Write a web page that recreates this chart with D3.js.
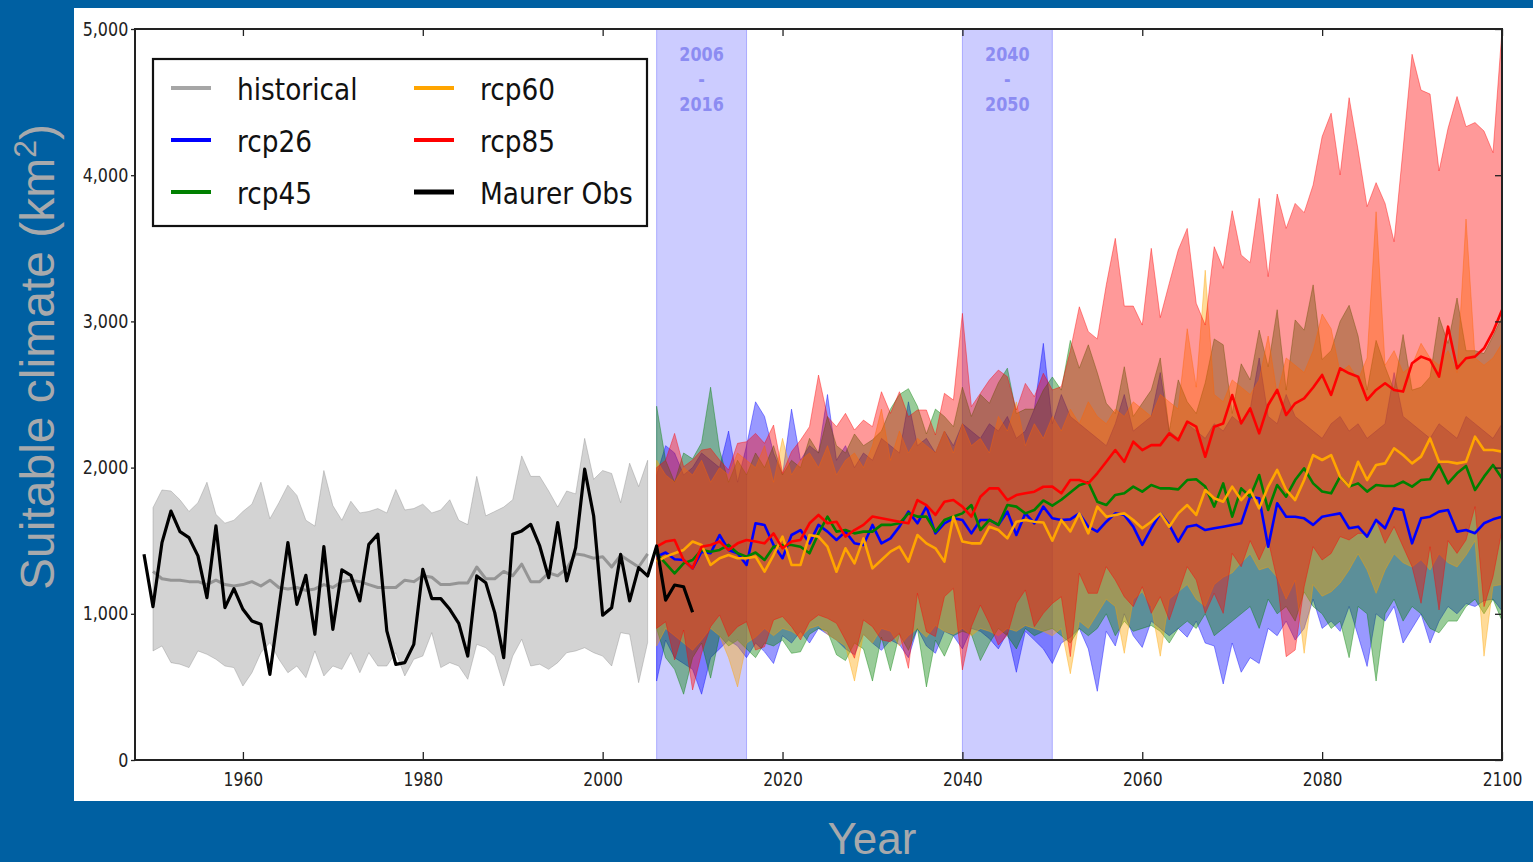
<!DOCTYPE html>
<html>
<head>
<meta charset="utf-8">
<script src="https://cdn.jsdelivr.net/npm/d3@7"></script>
<style>
  html, body { margin: 0; padding: 0; background: #0060a2; overflow: hidden; }
  svg { display: block; }
</style>
</head>
<body>
<svg id="chart" width="1533" height="862"></svg>
<script>
// ---- data ----
const xTicks = [1960, 1980, 2000, 2020, 2040, 2060, 2080, 2100];
const yTicks = [0, 1000, 2000, 3000, 4000, 5000];
const periods = [[2006, 2016], [2040, 2050]];

const histYears = d3.range(1950, 2006);
const histMedian = [1290,1240,1230,1230,1220,1220,1200,1230,1200,1190,1200,1220,1190,1230,1180,1170,1180,1160,1170,1200,
  1180,1220,1230,1220,1200,1180,1180,1180,1230,1220,1260,1250,1200,1200,1210,1210,1320,1240,1240,1290,
  1260,1340,1220,1220,1280,1260,1310,1410,1400,1380,1390,1320,1400,1360,1320,1410];
const histMin = [746,780,666,655,632,746,723,689,643,632,506,597,734,803,689,597,643,563,746,575,
  643,620,734,597,734,643,643,734,575,689,711,871,632,666,643,552,791,768,711,506,
  711,826,643,655,620,666,734,746,768,734,711,643,871,860,529,803];
const histMax = [1726,1847,1840,1780,1700,1760,1900,1680,1620,1640,1700,1750,1900,1650,1760,1880,1810,1640,1600,1980,
  1740,1640,1770,1690,1700,1720,1690,1850,1710,1720,1750,1690,1710,1780,1640,1610,1940,1670,1700,1730,
  1780,2080,1940,1940,1840,1730,1840,1820,2200,1920,1980,1960,1760,2030,1870,2050];

const obsYears = d3.range(1949, 2011);
const obsValues = [1407,1049,1487,1703,1562,1521,1396,1111,1601,1042,1172,1031,951,928,586,1040,1487,1065,1263,860,
  1460,894,1300,1263,1088,1475,1544,883,654,666,791,1304,1104,1104,1031,935,711,1259,1213,1008,
  700,1544,1567,1612,1464,1247,1624,1225,1453,1989,1669,990,1042,1407,1088,1316,1259,1464,1094,1197,
  1185,1010];

const projYears = d3.range(2006, 2101);

const rcp26Median = [1391,1419,1373,1368,1311,1425,1414,1539,1437,1414,1334,1619,1608,1471,1380,1539,1573,1482,1608,1562,
  1505,1562,1482,1471,1608,1482,1516,1596,1699,1619,1733,1550,1619,1653,1642,1550,1642,1642,1608,1699,
  1539,1687,1619,1733,1653,1642,1646,1687,1596,1562,1630,1687,1676,1596,1471,1585,1687,1608,1494,1596,
  1608,1573,1585,1596,1608,1619,1801,1790,1459,1756,1664,1664,1653,1608,1664,1676,1687,1585,1596,1528,
  1642,1585,1721,1710,1482,1653,1664,1699,1710,1562,1573,1551,1619,1646,1664];
const rcp26Min = [540,820,700,660,620,450,700,760,820,780,700,800,740,660,850,800,880,800,900,860,
  820,760,720,860,800,750,820,790,700,900,780,730,880,850,760,900,880,830,760,870,
  600,880,820,760,660,800,840,900,760,470,880,780,1000,850,770,950,900,850,900,840,
  950,800,780,520,800,600,700,660,900,850,950,820,900,1100,900,950,880,1050,850,640,
  1000,950,1050,800,900,1000,800,950,1050,1000,1070,1050,1090,1100,1020];
const rcp26Max = [1950,2150,2100,1950,2000,2100,2050,2000,2250,1900,2150,2450,2350,2100,1950,2400,2050,2150,2100,2500,
  2050,2150,2000,2100,2050,2200,2150,2100,2450,2150,2200,2100,2250,2150,2300,2250,2200,2300,2250,2350,
  2200,2250,2400,2850,2300,2500,2350,2300,2250,2200,2150,2300,2500,2250,2300,2350,2650,2250,2200,2300,
  2250,2200,2300,2250,2350,2300,2400,2750,2350,2300,2500,2350,2300,2250,2200,2300,2350,2250,2300,2200,
  2250,2300,2650,2350,2300,2250,2200,2300,2250,2200,2350,2300,2250,2200,2300];

const rcp45Median = [1414,1345,1277,1345,1368,1437,1425,1437,1471,1414,1391,1419,1368,1459,1471,1471,1459,1414,1550,1665,
  1562,1573,1550,1562,1562,1608,1608,1619,1687,1665,1665,1562,1642,1665,1687,1744,1573,1642,1608,1744,
  1733,1687,1710,1775,1740,1780,1830,1880,1900,1767,1744,1813,1824,1870,1836,1881,1858,1858,1851,1915,
  1920,1870,1733,1892,1664,1858,1801,1949,1710,1881,1801,1915,1995,1892,1836,1824,1938,1870,1892,1836,
  1881,1874,1874,1904,1870,1915,1920,2018,1892,1961,2011,1847,1938,2018,1927];
const rcp45Min = [900,700,620,450,700,800,560,850,780,820,760,700,800,780,820,730,740,860,900,880,
  720,680,800,760,540,840,610,860,750,900,500,820,710,850,880,860,680,800,900,850,
  760,900,850,880,900,850,800,900,850,900,1000,850,950,880,900,920,880,800,900,950,
  900,1000,850,900,950,1000,1050,900,1100,1000,1050,950,1150,1050,1000,900,950,700,1050,1000,
  540,1000,1100,950,1050,1000,900,870,950,950,1050,1100,1000,1100,950];
const rcp45Max = [2420,2050,1900,2100,2060,2170,2550,2120,1900,2050,1950,2100,2000,2150,1950,2050,2000,2200,2100,2350,
  2150,2100,2230,2150,2190,2250,2400,2500,2540,2420,2230,2400,2350,2280,2550,2350,2500,2440,2580,2680,
  2370,2400,2400,2530,2620,2530,2870,2680,2840,2650,2440,2370,2690,2350,2440,2530,2750,2250,2600,2450,
  2370,2580,2880,2840,2370,2710,2600,2940,2690,3080,2530,3010,2940,3250,2740,2800,3000,3110,2900,2530,
  2870,2690,2530,2910,2530,2550,2620,3030,2850,3160,2800,2800,2780,2900,3030];

const rcp60Median = [1357,1391,1414,1437,1494,1471,1334,1380,1402,1380,1380,1391,1288,1402,1528,1334,1334,1539,1528,1459,
  1288,1448,1345,1516,1311,1368,1425,1459,1357,1539,1482,1448,1357,1665,1494,1482,1482,1596,1573,1516,
  1630,1642,1630,1625,1500,1642,1563,1687,1550,1733,1664,1676,1687,1642,1585,1630,1687,1596,1687,1744,
  1676,1847,1790,1767,1870,1778,1847,1721,1870,1984,1847,1778,1915,2086,2052,2086,1938,1870,2040,1915,
  2018,2029,2132,2086,2029,2075,2200,2040,2040,2029,2040,2212,2120,2120,2109];
const rcp60Min = [780,900,850,800,750,820,900,850,700,500,800,840,900,850,900,880,840,900,920,860,
  820,780,540,860,800,900,880,780,850,900,840,920,880,860,900,850,900,880,850,900,
  880,920,900,880,850,900,590,950,900,1000,1100,1050,730,1100,1150,1050,710,1100,1150,1200,
  1100,1050,1200,1250,1280,1350,1410,1300,1320,1250,1100,1230,730,1200,1120,1150,1210,1300,1410,1300,
  1140,1300,1410,1350,1320,1370,1300,1410,1350,1320,1400,1500,710,1190,1200];
const rcp60Max = [2050,1950,1900,2000,1950,2050,1900,2000,1950,2100,2050,2000,2150,1900,2200,1950,2050,2100,2000,2150,
  1950,2050,2100,2000,2150,2400,2050,2250,2100,2200,2150,2100,2250,2100,2300,2150,2200,2100,2350,2250,
  2450,2150,2300,2200,2350,2250,2400,2300,2450,2350,2300,2400,2350,2450,2400,2350,2500,2450,2400,2950,
  2550,3350,2500,2450,2600,2550,2500,2600,2900,2500,2750,2700,2650,2800,3050,2950,2650,2700,2600,2750,
  3750,2700,2800,2650,2700,2850,2750,2700,2800,2650,3700,2750,2700,2750,2850];

const rcp85Median = [1459,1494,1505,1368,1311,1459,1471,1494,1437,1482,1505,1494,1482,1550,1448,1494,1505,1619,1676,1619,
  1630,1528,1573,1608,1665,1653,1642,1630,1619,1778,1744,1676,1767,1778,1733,1665,1801,1858,1858,1778,
  1812,1824,1835,1869,1870,1824,1915,1915,1892,1961,2040,2120,2040,2177,2120,2154,2154,2234,2188,2314,
  2280,2074,2280,2302,2496,2302,2405,2234,2428,2531,2360,2440,2474,2548,2634,2497,2679,2645,2622,2463,
  2531,2577,2531,2520,2714,2759,2736,2622,2964,2679,2748,2759,2816,2930,3078];
const rcp85Min = [900,946,684,889,479,730,912,992,844,912,946,752,775,958,981,912,821,946,992,969,
  935,821,696,958,912,821,809,866,627,1140,878,844,1117,1174,616,912,1060,935,787,855,
  1071,1163,912,1003,1071,1117,707,1277,1140,1140,1322,1231,1117,1049,1185,1003,1117,958,1140,1322,
  1231,1003,1140,1003,1413,1322,1500,1368,1505,1231,707,752,1185,1459,1368,1413,1528,1505,1550,1550,
  1642,1482,1596,1459,1322,1072,1459,1026,1500,1413,1505,1733,1049,1254,1573];
const rcp85Max = [2000,2050,2234,2006,2052,2120,2131,2052,1984,2166,2177,2234,2166,2291,1961,2109,2188,2280,2633,2348,
  2280,2371,2257,2325,2280,2519,2371,2519,2348,2394,2394,2223,2508,2462,3055,2417,2508,2599,2667,2622,
  2394,2576,2485,2645,2531,2554,2800,3100,2930,2880,3250,3568,3105,3105,2975,3500,3026,3260,3489,3636,
  3124,2975,3511,3363,3757,3454,3402,3842,3306,3871,3636,3807,3744,3933,4264,4424,4002,4530,4172,3785,
  3949,3807,3545,4180,4827,4582,4555,4029,4321,4538,4332,4360,4302,4154,4993];

const legendNames = ["historical", "rcp26", "rcp45", "rcp60", "rcp85", "Maurer Obs"];

// ---- styles ----
const colors = {
  historical: "#808080", rcp26: "#0000ff", rcp45: "#008000",
  rcp60: "#ffa500", rcp85: "#ff0000", "Maurer Obs": "#000000"
};
const tickFont = "'DejaVu Sans', sans-serif";

// ---- build ----
const svg = d3.select("#chart");
const plot = { left: 135, right: 1502, top: 29, bottom: 760 };

const x = d3.scaleLinear().domain([1948, 2100]).range([plot.left, plot.right]);
const y = d3.scaleLinear().domain([0, 5000]).range([plot.bottom, plot.top]);

svg.append("rect")
  .attr("x", 74).attr("y", 8)
  .attr("width", 1533 - 74).attr("height", 793)
  .attr("fill", "#fff");

svg.append("clipPath").attr("id", "clip")
  .append("rect")
  .attr("x", plot.left).attr("y", plot.top)
  .attr("width", plot.right - plot.left).attr("height", plot.bottom - plot.top);

const g = svg.append("g").attr("clip-path", "url(#clip)");

// shaded periods
g.selectAll("rect.period")
  .data(periods)
  .enter()
  .append("rect")
  .attr("class", "period")
  .attr("x", d => x(d[0]))
  .attr("y", plot.top)
  .attr("width", d => x(d[1]) - x(d[0]))
  .attr("height", plot.bottom - plot.top)
  .attr("fill", "#0000ff").attr("fill-opacity", 0.2)
  .attr("stroke", "#0000ff").attr("stroke-opacity", 0.25);

// ranges
const bands = [
  { name: "historical", years: histYears, lo: histMin, hi: histMax, mid: histMedian, alpha: 0.35 },
  { name: "rcp26", years: projYears, lo: rcp26Min, hi: rcp26Max, mid: rcp26Median, alpha: 0.4 },
  { name: "rcp45", years: projYears, lo: rcp45Min, hi: rcp45Max, mid: rcp45Median, alpha: 0.4 },
  { name: "rcp60", years: projYears, lo: rcp60Min, hi: rcp60Max, mid: rcp60Median, alpha: 0.4 },
  { name: "rcp85", years: projYears, lo: rcp85Min, hi: rcp85Max, mid: rcp85Median, alpha: 0.4 }
];

const area = d3.area()
  .x(d => x(d.year))
  .y0(d => y(d.lo))
  .y1(d => y(d.hi));

const line = d3.line()
  .x(d => x(d.year))
  .y(d => y(d.v));

bands.forEach(b => {
  const rows = b.years.map((yr, i) => ({ year: yr, lo: b.lo[i], hi: b.hi[i] }));
  g.append("path")
    .datum(rows)
    .attr("d", area)
    .attr("fill", colors[b.name]).attr("fill-opacity", b.alpha)
    .attr("stroke", colors[b.name]).attr("stroke-opacity", b.alpha)
    .attr("stroke-width", 1);
});

bands.forEach(b => {
  const rows = b.years.map((yr, i) => ({ year: yr, v: b.mid[i] }));
  g.append("path")
    .datum(rows)
    .attr("d", line)
    .attr("fill", "none")
    .attr("stroke", colors[b.name])
    .attr("stroke-opacity", b.name === "historical" ? 0.75 : 1)
    .attr("stroke-width", b.name === "historical" ? 3 : 2.6)
    .attr("stroke-linejoin", "round");
});

g.append("path")
  .datum(obsYears.map((yr, i) => ({ year: yr, v: obsValues[i] })))
  .attr("d", line)
  .attr("fill", "none")
  .attr("stroke", colors["Maurer Obs"])
  .attr("stroke-width", 3.2)
  .attr("stroke-linejoin", "round");

// period labels
periods.forEach(p => {
  const lab = svg.append("g")
    .attr("fill", "#8c8cf2")
    .attr("font-family", tickFont)
    .attr("font-weight", "bold")
    .attr("font-size", 20)
    .attr("text-anchor", "middle");
  [[String(p[0]), 61], ["-", 86], [String(p[1]), 111]].forEach(([t, yy]) => {
    lab.append("text")
      .attr("transform", `translate(${x((p[0] + p[1]) / 2)},${yy}) scale(0.8,1)`)
      .text(t);
  });
});

// axes
const styleAxis = sel => {
  sel.select(".domain").remove();
  sel.selectAll(".tick line").attr("stroke", "#222").attr("stroke-width", 1.3);
  sel.selectAll(".tick text")
    .attr("fill", "#222")
    .attr("font-family", tickFont)
    .attr("font-size", 19);
};

const xAxis = svg.append("g")
  .attr("transform", `translate(0,${plot.bottom})`)
  .call(d3.axisBottom(x).tickValues(xTicks).tickFormat(d3.format("d"))
    .tickSize(-8).tickSizeOuter(0).tickPadding(13))
  .call(styleAxis);
xAxis.selectAll(".tick text").attr("transform", "scale(0.82,1)");

const yAxis = svg.append("g")
  .attr("transform", `translate(${plot.left},0)`)
  .call(d3.axisLeft(y).tickValues(yTicks).tickFormat(d3.format(","))
    .tickSize(4).tickSizeOuter(0).tickPadding(4))
  .call(styleAxis);
yAxis.selectAll(".tick text").attr("transform", "scale(0.84,1)");

svg.append("g")
  .attr("transform", `translate(0,${plot.top})`)
  .call(d3.axisTop(x).tickValues(xTicks).tickFormat("").tickSize(-7).tickSizeOuter(0))
  .call(styleAxis);

svg.append("g")
  .attr("transform", `translate(${plot.right},0)`)
  .call(d3.axisRight(y).tickValues(yTicks).tickFormat("").tickSize(-7).tickSizeOuter(0))
  .call(styleAxis);

svg.append("rect")
  .attr("x", plot.left).attr("y", plot.top)
  .attr("width", plot.right - plot.left).attr("height", plot.bottom - plot.top)
  .attr("fill", "none")
  .attr("stroke", "#222").attr("stroke-width", 2);

// legend
const legend = svg.append("g").attr("transform", "translate(153,59)");
legend.append("rect")
  .attr("width", 494).attr("height", 167)
  .attr("fill", "#fff")
  .attr("stroke", "#111").attr("stroke-width", 2.2);

const item = legend.selectAll("g.item")
  .data(legendNames)
  .enter()
  .append("g")
  .attr("class", "item")
  .attr("transform", (d, i) => `translate(${i < 3 ? 18 : 261},${29 + (i % 3) * 52})`);

item.append("line")
  .attr("x1", 0).attr("x2", 40)
  .attr("stroke", d => colors[d])
  .attr("stroke-opacity", d => d === "historical" ? 0.7 : 1)
  .attr("stroke-width", d => d === "Maurer Obs" ? 5 : 4);

item.append("text")
  .attr("transform", "translate(66,12) scale(0.88,1)")
  .attr("font-family", tickFont)
  .attr("font-size", 30)
  .attr("fill", "#111")
  .text(d => d);

// axis titles
const yTitle = svg.append("text")
  .attr("transform", "translate(54,357) rotate(-90)")
  .attr("text-anchor", "middle")
  .attr("font-family", "'Liberation Sans', Arial, sans-serif")
  .attr("font-size", 48)
  .attr("fill", "#a7a9ac");
yTitle.append("tspan").text("Suitable climate (km");
yTitle.append("tspan").attr("font-size", 32).attr("dy", -18).text("2");
yTitle.append("tspan").attr("dy", 18).text(")");

svg.append("text")
  .attr("x", 872).attr("y", 854)
  .attr("text-anchor", "middle")
  .attr("font-family", "'Liberation Sans', Arial, sans-serif")
  .attr("font-size", 44)
  .attr("fill", "#a7a9ac")
  .text("Year");
</script>
</body>
</html>
